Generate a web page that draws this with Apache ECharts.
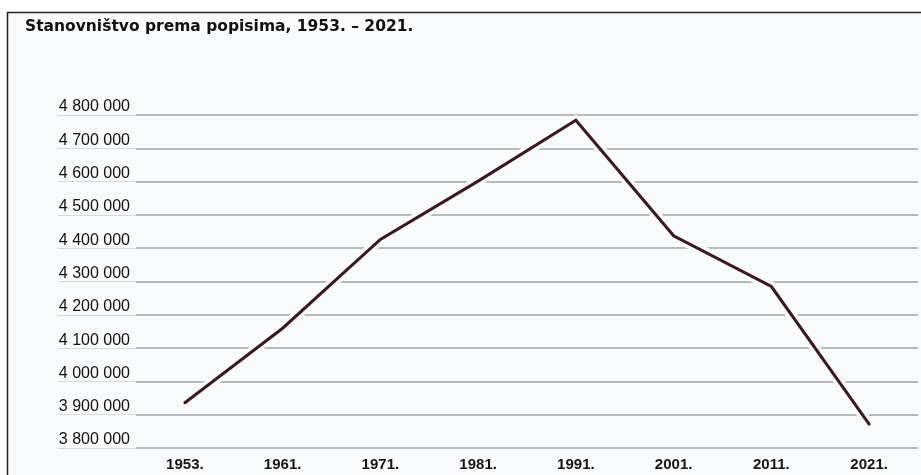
<!DOCTYPE html>
<html>
<head>
<meta charset="utf-8">
<script src="https://cdn.jsdelivr.net/npm/echarts@6/dist/echarts.min.js"></script>
<style>
html,body{margin:0;padding:0;background:#fff;}
#c{width:921px;height:475px;}
</style>
</head>
<body>
<div id="c"></div>
<script>
const titleText = 'Stanovništvo prema popisima, 1953. – 2021.';
const categories = ['1953.', '1961.', '1971.', '1981.', '1991.', '2001.', '2011.', '2021.'];
const population = [3936022, 4159696, 4426221, 4601469, 4784265, 4437460, 4284889, 3871833];
const yMin = 3800000, yMax = 4800000, yStep = 100000;

function fmt(v) {
  return String(v).replace(/\B(?=(\d{3})+(?!\d))/g, ' ');
}

const chart = echarts.init(document.getElementById('c'));
chart.setOption({
  animation: false,
  backgroundColor: '#ffffff',
  graphic: [{
    type: 'rect',
    z: -10,
    silent: true,
    shape: { x: 7.5, y: 12.5, width: 940, height: 490 },
    style: { fill: '#f8fafc', stroke: '#222222', lineWidth: 1.5 }
  }],
  title: {
    text: titleText,
    left: 20,
    top: 14,
    textStyle: { fontFamily: 'DejaVu Sans', fontWeight: 'bold', fontSize: 15.5, color: '#111111' }
  },
  grid: [
    { left: 136, right: 3, top: 115, bottom: 27 },
    { left: 58, width: 78, top: 115, bottom: 27 }
  ],
  xAxis: [{
    type: 'category',
    gridIndex: 0,
    data: categories,
    boundaryGap: true,
    axisLine: { show: false },
    axisTick: { show: false },
    axisLabel: {
      margin: 9,
      fontFamily: 'Liberation Sans',
      fontWeight: 'bold',
      fontSize: 15,
      color: '#151515'
    }
  }, {
    type: 'category',
    gridIndex: 1,
    data: ['a'],
    show: false
  }],
  yAxis: [{
    type: 'value',
    gridIndex: 0,
    min: yMin,
    max: yMax,
    interval: yStep,
    axisLine: { show: false },
    axisTick: { show: false },
    splitLine: { lineStyle: { color: '#a2a4a6', width: 1.5 } },
    axisLabel: {
      formatter: fmt,
      align: 'right',
      verticalAlign: 'bottom',
      margin: 6,
      fontFamily: 'Liberation Sans',
      fontSize: 16,
      color: '#111111'
    }
  }, {
    type: 'value',
    gridIndex: 1,
    min: yMin,
    max: yMax,
    interval: yStep,
    axisLine: { show: false },
    axisTick: { show: false },
    axisLabel: { show: false },
    splitLine: { lineStyle: { color: '#d6d8da', width: 1.2 } }
  }],
  series: [{
    type: 'line',
    xAxisIndex: 0,
    yAxisIndex: 0,
    data: population,
    symbol: 'none',
    silent: true,
    lineStyle: { color: '#f8fafc', width: 10, cap: 'round', join: 'round' },
    z: 3
  }, {
    type: 'line',
    xAxisIndex: 0,
    yAxisIndex: 0,
    data: population,
    symbol: 'none',
    silent: true,
    lineStyle: { color: '#3a1a1f', width: 3, cap: 'round', join: 'miter' },
    z: 4
  }]
});
</script>
</body>
</html>
